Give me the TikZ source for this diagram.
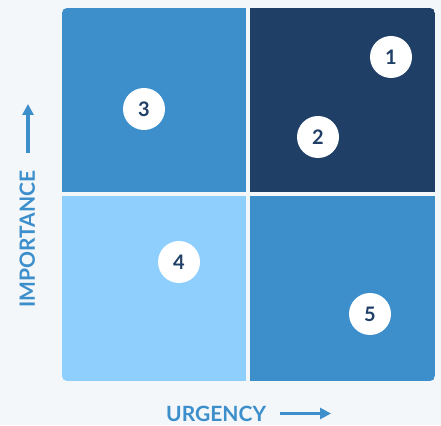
\documentclass[tikz,border=0pt]{standalone}
\usepackage{fontspec}
\setmainfont{Lato}
\usetikzlibrary{arrows.meta}
\definecolor{bg}{HTML}{F3F7FA}
\definecolor{midblue}{HTML}{3D8FCB}
\definecolor{navy}{HTML}{1F3F66}
\definecolor{lightblue}{HTML}{8ECFFD}
\tikzset{
  num/.style={circle, fill=white, minimum size=42pt, inner sep=0pt, text=navy, font=\fontsize{20}{20}\selectfont\bfseries},
  axislabel/.style={text=midblue, font=\fontsize{21}{21}\selectfont\bfseries, inner sep=0pt},
  axisarrow/.style={draw=midblue, line width=3.2pt, -{Triangle[length=11pt,width=11pt]}}
}
\begin{document}
\begin{tikzpicture}[x=1pt,y=1pt]
\useasboundingbox (0,0) rectangle (441,425);
\fill[bg] (0,0) rectangle (441,425);
\begin{scope}
\clip[rounded corners=5pt] (62,44) rectangle (435,417);
\fill[midblue] (62,233) rectangle (246,417);
\fill[navy] (250,233) rectangle (435,417);
\fill[lightblue] (62,44) rectangle (246,229);
\fill[midblue] (250,44) rectangle (435,229);
\end{scope}
\node[num] (n1) at (391,368) {1};
\node[num] (n2) at (318,288) {2};
\node[num] (n3) at (144,316) {3};
\node[num] (n4) at (179,163) {4};
\node[num] (n5) at (370,111) {5};
\node[axislabel, anchor=base west] (urg) at (166,3) {URGENCY};
\coordinate (urgStart) at (280,11.5);
\coordinate (urgEnd) at (331,11.5);
\draw[axisarrow] (urgStart) -- (urgEnd);
\node[axislabel, rotate=90, anchor=base west] (imp) at (35,117) {IMPORTANCE};
\coordinate (impStart) at (28,272);
\coordinate (impEnd) at (28,321);
\draw[axisarrow] (impStart) -- (impEnd);
\end{tikzpicture}
\end{document}
